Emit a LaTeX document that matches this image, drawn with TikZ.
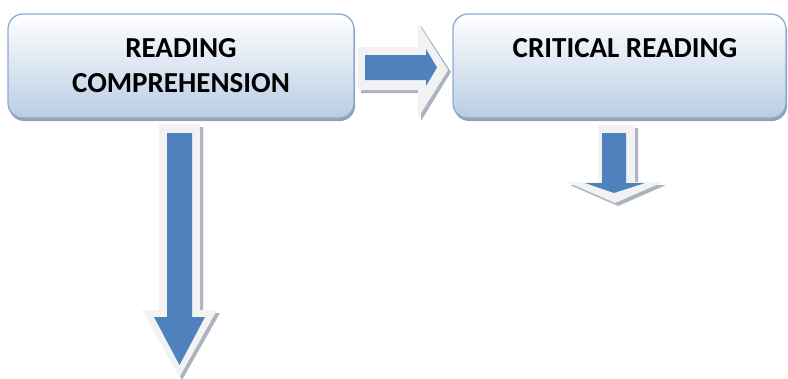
\documentclass[tikz,border=0pt]{standalone}
\usepackage{fontspec}
\setmainfont{Carlito}
\usetikzlibrary{shadows}
\definecolor{boxline}{RGB}{140,170,210}
\definecolor{boxbottom}{RGB}{185,205,229}
\definecolor{arrowblue}{RGB}{79,129,189}
\definecolor{outlinefill}{RGB}{242,242,242}
\definecolor{shadowgray}{RGB}{150,160,175}
\tikzset{
  box/.style={draw=boxline, line width=1.3pt, rounded corners=15pt,
    top color=white, bottom color=boxbottom,
    drop shadow={shadow xshift=1pt, shadow yshift=-3pt, fill=shadowgray, opacity=1},
    inner sep=0pt},
  boxtext/.style={font=\fontsize{29}{35}\selectfont\bfseries, align=center, inner sep=0pt},
  outer/.style={fill=outlinefill, draw=none},
  outshadow/.style={fill=shadowgray!80, draw=none},
  inner/.style={fill=arrowblue, draw=none}
}
\begin{document}
\begin{tikzpicture}[x=1pt,y={(0pt,-1pt)}]
\useasboundingbox (0,0) rectangle (788,378);
% boxes
\node[box, minimum width=346pt, minimum height=104pt] (rc) at (181,66) {};
\node[boxtext] (rct) at (181,66) {READING\\COMPREHENSION};
\node[box, minimum width=333pt, minimum height=104pt] (cr) at (619.5,66) {};
\node[boxtext] (crt) at (625,48) {CRITICAL READING};
% right arrow
\fill[outshadow] (361,50) -- (421,50) -- (421,26) -- (451,72) -- (421,121) -- (421,93) -- (361,93) -- cycle;
\fill[outer] (358,47) -- (418,47) -- (418,23) -- (448,70) -- (418,118) -- (418,90) -- (358,90) -- cycle;
\fill[inner] (365,55) -- (426,55) -- (426,49) -- (437,67.5) -- (426,86) -- (426,80) -- (365,80) -- cycle;
% left down arrow
\fill[outshadow] (162,127) -- (203,127) -- (203,313) -- (220,313) -- (182,380) -- (145,313) -- (162,313) -- cycle;
\fill[outer] (159,124) -- (200,124) -- (200,310) -- (217,310) -- (179.5,377) -- (142,310) -- (159,310) -- cycle;
\fill[inner] (167,133) -- (192,133) -- (192,317) -- (205,317) -- (179.5,365) -- (154,317) -- (167,317) -- cycle;
% right down arrow
\fill[outshadow] (601,128) -- (638,128) -- (638,185) -- (666,185) -- (618,206) -- (570,185) -- (601,185) -- cycle;
\fill[outer] (598,125) -- (635,125) -- (635,182) -- (663,182) -- (615,203) -- (567,182) -- (598,182) -- cycle;
\fill[inner] (602,133) -- (626,133) -- (626,183) -- (645,183) -- (614,193) -- (585,183) -- (602,183) -- cycle;
\end{tikzpicture}
\end{document}
